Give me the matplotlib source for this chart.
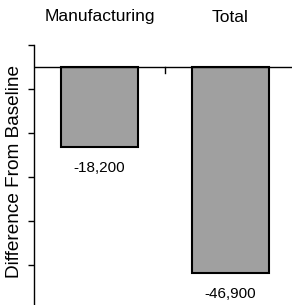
import matplotlib
matplotlib.use("Agg")
import matplotlib.pyplot as plt
from matplotlib.transforms import blended_transform_factory

categories = ["Manufacturing", "Total"]
values = [-18200, -46900]
value_labels = ["-18,200", "-46,900"]

plt.rcParams['font.family'] = ['Liberation Sans', 'DejaVu Sans']

W, H = 292, 305
fig = plt.figure(figsize=(W/100, H/100), dpi=100)
ax = fig.add_axes([34/W, 0, (296-34)/W, (305-45)/H])

x = [0.5, 1.5]
ax.bar(x, values, width=0.59, color='#a0a0a0', edgecolor='black', linewidth=1.5, zorder=2)
ax.set_xlim(0, 2)
ax.set_ylim(-54090, 5000)
ax.axhline(0, color='black', linewidth=1, zorder=3)

ax.spines['top'].set_visible(False)
ax.spines['right'].set_visible(False)
ax.spines['bottom'].set_visible(False)
ax.spines['left'].set_linewidth(1)

ax.set_yticks([5000, -5000, -15000, -25000, -35000, -45000])
ax.set_yticklabels([])
ax.tick_params(axis='y', direction='out', length=4, width=1)
ax.set_xticks([])
# category separator tick on zero line
ax.plot([1, 1], [0, -1400], color='black', linewidth=1, zorder=3)

for xi, v, lab in zip(x, values, value_labels):
    ax.annotate(lab, (xi, v), xytext=(0, -15), textcoords='offset points',
                ha='center', va='center', fontsize=11)

trans = blended_transform_factory(ax.transData, fig.transFigure)
for xi, c in zip(x, categories):
    ax.text(xi, 1 - 17/H, c, transform=trans,
            ha='center', va='center', fontsize=12.5, clip_on=False)

fig.text(15/W, 1 - 171/H, "Difference From Baseline", rotation=90,
         ha='center', va='center', fontsize=13.7)

fig.savefig("out.png", dpi=100)
